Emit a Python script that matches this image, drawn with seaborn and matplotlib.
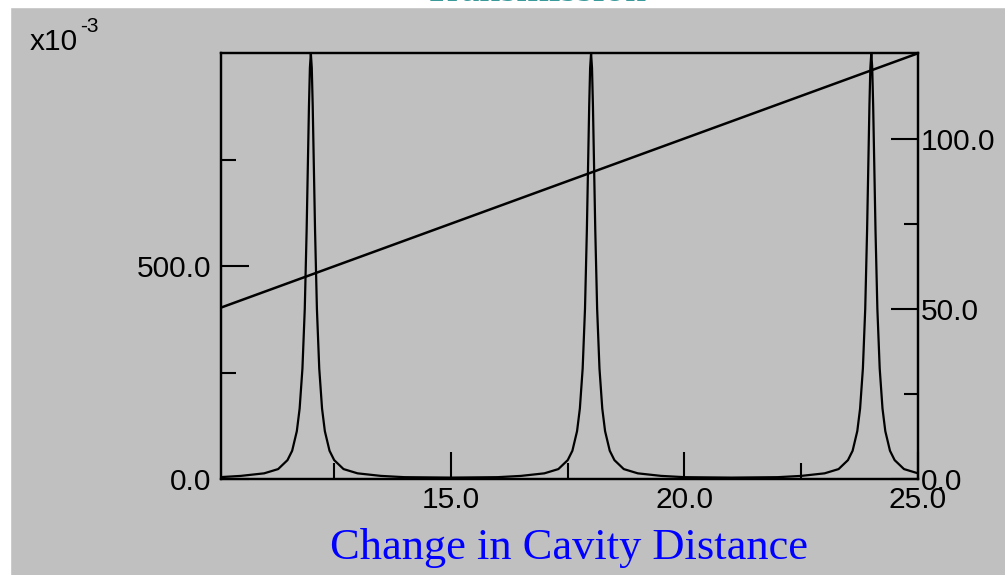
import matplotlib
matplotlib.use("Agg")
import matplotlib.pyplot as plt
from matplotlib.patches import Rectangle
from matplotlib.ticker import FixedLocator
import seaborn as sns

# transmission curve (peaks at 12, 18 and 24)
curve_x = [10.05, 10.5, 11.0, 11.3, 11.5, 11.6, 11.7, 11.76, 11.82, 11.87,
           11.91, 11.94, 11.96, 11.98, 12.0, 12.02, 12.04, 12.06, 12.09,
           12.13, 12.18, 12.24, 12.3, 12.4, 12.5, 12.7, 13.0, 13.5, 14.0,
           15.0, 16.0, 16.5, 17.0, 17.3, 17.5, 17.6, 17.7, 17.76, 17.82,
           17.87, 17.91, 17.94, 17.96, 17.98, 18.0, 18.02, 18.04, 18.06,
           18.09, 18.13, 18.18, 18.24, 18.3, 18.4, 18.5, 18.7, 19.0, 19.5,
           20.0, 21.0, 22.0, 22.5, 23.0, 23.3, 23.5, 23.6, 23.7, 23.76,
           23.82, 23.87, 23.91, 23.94, 23.96, 23.98, 24.0, 24.02, 24.04,
           24.06, 24.09, 24.13, 24.18, 24.24, 24.3, 24.4, 24.5, 24.7, 25.0]
curve_y = [0.005, 0.008, 0.014, 0.024, 0.045, 0.067, 0.113, 0.166, 0.26, 0.40,
           0.585, 0.76, 0.877, 0.966, 1.0, 0.966, 0.877, 0.76, 0.585,
           0.40, 0.26, 0.166, 0.113, 0.067, 0.045, 0.024, 0.014, 0.008, 0.005,
           0.004, 0.005, 0.008, 0.014, 0.024, 0.045, 0.067, 0.113, 0.166, 0.26,
           0.40, 0.585, 0.76, 0.877, 0.966, 1.0, 0.966, 0.877, 0.76,
           0.585, 0.40, 0.26, 0.166, 0.113, 0.067, 0.045, 0.024, 0.014, 0.008,
           0.005, 0.004, 0.005, 0.008, 0.014, 0.024, 0.045, 0.067, 0.113, 0.166,
           0.26, 0.40, 0.585, 0.76, 0.877, 0.966, 1.0, 0.966, 0.877,
           0.76, 0.585, 0.40, 0.26, 0.166, 0.113, 0.067, 0.045, 0.024, 0.014]

# straight line on the right axis
line_x = [10.0, 25.0]
line_y = [50.0, 125.0]

# tick labels
x_ticks = [15.0, 20.0, 25.0]
x_labels = ["15.0", "20.0", "25.0"]
y_ticks = [0.0, 0.5]
y_labels = ["0.0", "500.0"]
y2_ticks = [0.0, 50.0, 100.0]
y2_labels = ["0.0", "50.0", "100.0"]

gray = "#c0c0c0"
sns.set_style("white")
plt.rcParams["font.family"] = ["Liberation Sans", "DejaVu Sans"]
plt.rcParams["text.color"] = "black"

fig = plt.figure(figsize=(10.05, 5.75), dpi=100, facecolor=gray)
# white strips on top / left edge of the screenshot
fig.patches.append(Rectangle((0, 1 - 7 / 575), 1, 7 / 575,
                             transform=fig.transFigure, color="white"))
fig.patches.append(Rectangle((0, 0), 10 / 1005, 1,
                             transform=fig.transFigure, color="white"))

ax = fig.add_axes([220.7 / 1005, 1 - 479.3 / 575,
                   697.3 / 1005, 426 / 575])
ax.set_facecolor(gray)

sns.lineplot(x=curve_x, y=curve_y, ax=ax, color="black", lw=1.6,
             sort=False, estimator=None)
ax.set_xlim(10.07, 25.0)
ax.set_ylim(0, 1.0)

ax2 = ax.twinx()
sns.lineplot(x=line_x, y=line_y, ax=ax2, color="black", lw=1.8,
             sort=False, estimator=None)
ax2.set_ylim(0, 125)
ax2.set_xlim(10.07, 25.0)

# frame
for a in (ax, ax2):
    for s in a.spines.values():
        s.set_color("black")
        s.set_linewidth(1.6)

# x ticks (inside, bottom only)
ax.set_xticks(x_ticks)
ax.set_xticklabels(x_labels)
ax.xaxis.set_minor_locator(FixedLocator([12.5, 17.5, 22.5]))
ax.tick_params(axis="x", which="both", direction="in", bottom=True, top=False,
               width=1.5, color="black", labelcolor="black", labelsize=21.5,
               pad=5)
ax.tick_params(axis="x", which="major", length=19.5)
ax.tick_params(axis="x", which="minor", length=11.5)

# left y ticks
ax.set_yticks(y_ticks)
ax.set_yticklabels(y_labels)
ax.yaxis.set_minor_locator(FixedLocator([0.25, 0.75]))
ax.tick_params(axis="y", which="both", direction="in", left=True, right=False,
               width=1.5, color="black", labelcolor="black", labelsize=21.5,
               pad=7)
ax.tick_params(axis="y", which="major", length=20)
ax.tick_params(axis="y", which="minor", length=11)

# right y ticks
ax2.set_yticks(y2_ticks)
ax2.set_yticklabels(y2_labels)
ax2.yaxis.set_minor_locator(FixedLocator([25.0, 75.0]))
ax2.tick_params(axis="y", which="both", direction="in", right=True, left=False,
                width=1.5, color="black", labelcolor="black", labelsize=21.5,
                pad=2)
ax2.tick_params(axis="y", which="major", length=19.5)
ax2.tick_params(axis="y", which="minor", length=10)

ax.set_xlabel("")
ax.set_ylabel("")
ax2.set_ylabel("")

# multiplier text at top left
fig.text(30 / 1005, 1 - 50 / 575, "x10", fontsize=21.5, va="baseline")
fig.text(80 / 1005, 1 - 32 / 575, "-3", fontsize=15, va="baseline")

# axis label in blue serif
fig.text(569 / 1005, 1 - 559 / 575, "Change in Cavity Distance",
         ha="center", va="baseline", color="#0000ff", fontsize=32,
         family=["Liberation Serif", "DejaVu Serif"])

# cut-off title at the very top
fig.text(535 / 1005, 1 - 1 / 575, "Transmission", ha="center",
         va="baseline", color="#3a9a9a", fontsize=30,
         family=["Liberation Serif", "DejaVu Serif"])

plt.savefig("out.png", dpi=100, facecolor=gray)
